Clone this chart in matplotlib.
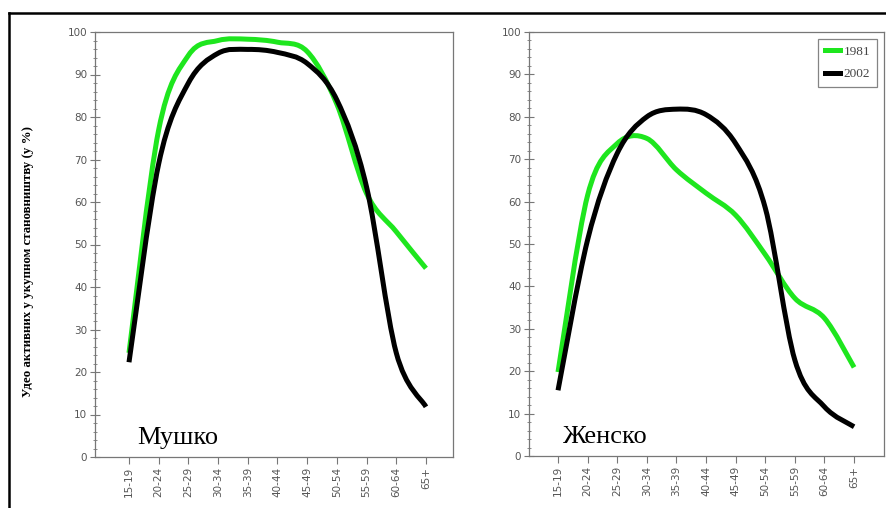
import numpy as np
import matplotlib.pyplot as plt
from matplotlib.path import Path
from matplotlib.patches import PathPatch
from matplotlib.lines import Line2D

# Data
ages = ['15-19', '20-24', '25-29', '30-34', '35-39', '40-44',
        '45-49', '50-54', '55-59', '60-64', '65+']
male_1981 = [24.5, 77, 94.5, 98, 98.3, 97.6, 95.4, 83, 62, 53, 44.4]
male_2002 = [22.3, 69, 88, 95, 95.9, 95.2, 92.6, 84, 63.5, 24.5, 11.8]
female_1981 = [19.8, 61.5, 73.7, 74.9, 67.5, 62, 56.8, 47.5, 37.2, 32.5, 20.9]
female_2002 = [15.5, 51, 71.4, 80, 81.8, 80.5, 73.7, 58.5, 22.6, 11.6, 6.9]
years = ['1981', '2002']

green = '#1ee61e'
tick_grey = '#555555'


def smooth_path(x, y):
    # Excel-style smoothed line: Catmull-Rom segments as cubic Beziers
    pts = np.column_stack([x, y]).astype(float)
    ext = np.vstack([pts[0], pts, pts[-1]])
    verts = [pts[0]]
    codes = [Path.MOVETO]
    for i in range(len(pts) - 1):
        p0, p1, p2, p3 = ext[i], ext[i + 1], ext[i + 2], ext[i + 3]
        verts += [p1 + (p2 - p0) / 6, p2 - (p3 - p1) / 6, p2]
        codes += [Path.CURVE4] * 3
    return Path(verts, codes)


def draw_line(ax, values, color):
    x = np.arange(len(values))
    patch = PathPatch(smooth_path(x, values), facecolor='none', edgecolor=color,
                      lw=3.6, capstyle='butt', joinstyle='round', zorder=3)
    ax.add_patch(patch)


fig = plt.figure(figsize=(8.86, 5.08), dpi=100)
ax1 = fig.add_axes([95 / 886, 51 / 508, 358 / 886, 425 / 508])
ax2 = fig.add_axes([529 / 886, 52 / 508, 355 / 886, 424 / 508])

panels = [(ax1, male_1981, male_2002, 'Мушко', (-1.145, 10.91), 0.118),
          (ax2, female_1981, female_2002, 'Женско', (-0.98, 11.01), 0.095)]

for ax, v81, v02, label, xlim, lx in panels:
    draw_line(ax, v81, green)
    draw_line(ax, v02, 'black')
    ax.set_xlim(*xlim)
    ax.set_ylim(0, 100)
    ax.set_xticks(range(len(ages)))
    ax.set_xticklabels(ages, rotation=90, fontsize=7.5, color=tick_grey)
    ax.set_yticks(range(0, 101, 10))
    ax.set_yticks(range(0, 101, 2), minor=True)
    ax.tick_params(axis='y', which='major', direction='inout', length=7,
                   width=0.8, color='#777777', labelsize=7.5, labelcolor=tick_grey, pad=2)
    ax.tick_params(axis='y', which='minor', direction='inout', length=3,
                   width=0.6, color='#777777')
    ax.tick_params(axis='x', which='major', direction='out', length=5,
                   width=0.8, color='#777777', pad=2)
    for s in ax.spines.values():
        s.set_color('#777777')
        s.set_linewidth(0.9)
    ax.text(lx, 0.03, label, transform=ax.transAxes,
            fontsize=19, family='Liberation Serif', color='black')

ax1.set_ylabel('Удео активних у укупном становништву (у %)', family='Liberation Serif',
               fontweight='bold', fontsize=9.3)
ax1.yaxis.set_label_coords(-0.17, 0.46)

handles = [Line2D([], [], color=green, lw=3.6), Line2D([], [], color='black', lw=3.6)]
leg = ax2.legend(handles, years, loc='upper right', frameon=True,
                 fancybox=False, handlelength=1.1, handletextpad=0.3,
                 borderaxespad=0.55, labelspacing=0.75, borderpad=0.5,
                 prop={'family': 'Liberation Serif', 'size': 9.5})
leg.get_frame().set_edgecolor('#666666')
leg.get_frame().set_linewidth(0.9)
for t in leg.get_texts():
    t.set_color('#444444')

# outer frame (top and left edges visible in the original)
fig.add_artist(Line2D([9 / 886, 9 / 886], [0, 1 - 13 / 508], color='black', lw=1.8,
                      transform=fig.transFigure))
fig.add_artist(Line2D([9 / 886, 1], [1 - 13 / 508, 1 - 13 / 508], color='black', lw=1.8,
                      transform=fig.transFigure))

fig.savefig('out.png', dpi=100)
